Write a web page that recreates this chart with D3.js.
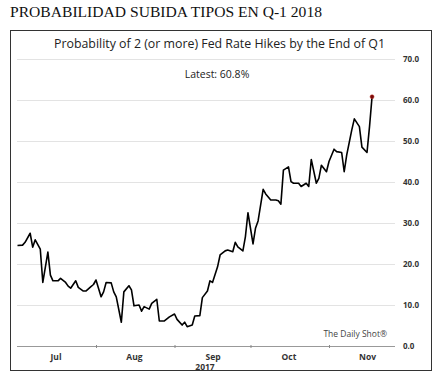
<!DOCTYPE html>
<html>
<head>
<meta charset="utf-8">
<script src="https://cdn.jsdelivr.net/npm/d3@7"></script>
<style>
  body { margin: 0; background: #fff; }
  svg { display: block; }
  .ylab text { font-family: "Open Sans", sans-serif; font-weight: bold; font-size: 8px; fill: #333; }
  .mlab text { font-family: "Open Sans", sans-serif; font-weight: bold; font-size: 8.5px; fill: #333; }
</style>
</head>
<body>
<div id="container"></div>
<script>
var width = 442,
    height = 389;

// series
var dates = ["2017-07-01","2017-07-03","2017-07-04","2017-07-06","2017-07-07","2017-07-08","2017-07-10","2017-07-11",
  "2017-07-13","2017-07-14","2017-07-15","2017-07-17","2017-07-18","2017-07-20","2017-07-21","2017-07-22",
  "2017-07-24","2017-07-25","2017-07-27","2017-07-28","2017-07-30","2017-07-31","2017-08-01","2017-08-03",
  "2017-08-04","2017-08-05","2017-08-07","2017-08-08","2017-08-09","2017-08-11","2017-08-12","2017-08-14",
  "2017-08-15","2017-08-16","2017-08-18","2017-08-19","2017-08-20","2017-08-22","2017-08-23","2017-08-25",
  "2017-08-26","2017-08-28","2017-08-29","2017-08-30","2017-09-01","2017-09-02","2017-09-04","2017-09-05",
  "2017-09-06","2017-09-08","2017-09-09","2017-09-11","2017-09-12","2017-09-14","2017-09-15","2017-09-16",
  "2017-09-18","2017-09-19","2017-09-21","2017-09-22","2017-09-24","2017-09-25","2017-09-26","2017-09-28",
  "2017-09-29","2017-09-30","2017-10-02","2017-10-03","2017-10-04","2017-10-06","2017-10-07","2017-10-09",
  "2017-10-11","2017-10-12","2017-10-13","2017-10-14","2017-10-16","2017-10-17","2017-10-18","2017-10-20",
  "2017-10-21","2017-10-23","2017-10-24","2017-10-25","2017-10-27","2017-10-28","2017-10-29","2017-10-31",
  "2017-11-01","2017-11-03","2017-11-04","2017-11-06","2017-11-07","2017-11-08","2017-11-10","2017-11-11",
  "2017-11-13","2017-11-14","2017-11-16","2017-11-17","2017-11-18"];
var values = [24.5,24.6,25.3,27.5,24.1,25.9,23.6,15.5,
  22.9,17.3,15.9,15.9,16.5,15.5,14.6,14.1,
  15.9,14.3,13.4,13.4,14.5,15.0,16.1,12.0,
  13.2,15.5,15.4,13.2,12.0,5.8,13.2,14.7,
  13.7,9.8,10.0,8.5,9.6,9.0,10.4,11.4,
  6.1,6.1,6.6,7.1,7.8,6.5,5.1,5.8,
  4.7,5.1,7.3,7.4,11.8,13.4,15.9,15.5,
  19.3,22.2,23.2,23.4,23.0,25.3,24.2,23.2,
  26.7,32.5,24.9,28.8,30.5,38.2,37.1,35.6,
  35.6,35.4,34.6,42.9,43.7,40.1,39.7,39.7,
  38.9,39.7,38.9,45.5,39.7,40.9,44.1,42.5,
  45.0,48.0,47.4,47.2,42.5,46.6,52.7,55.4,
  53.5,48.5,47.2,53.5,60.8];

var yTicks = [0, 10, 20, 30, 40, 50, 60, 70];
var monthTicks = ["2017-08-01", "2017-09-01", "2017-10-01", "2017-11-01"];
var monthLabels = ["2017-07-16", "2017-08-16", "2017-09-16", "2017-10-16", "2017-11-16"];
var latest = "Latest: 60.8%";

var parse = d3.timeParse("%Y-%m-%d");
var data = dates.map(function(d, i) { return { date: parse(d), value: values[i] }; });

var svg = d3.select("#container").append("svg")
    .attr("width", width)
    .attr("height", height);

// headline above the box
svg.append("text")
   .attr("x", 10).attr("y", 17)
   .attr("textLength", 312).attr("lengthAdjust", "spacingAndGlyphs")
   .style("font-family", "Liberation Serif, serif")
   .style("font-size", "15px")
   .style("fill", "#111")
   .text("PROBABILIDAD SUBIDA TIPOS EN Q-1 2018");

svg.append("rect")
   .attr("x", 10.5).attr("y", 30.5)
   .attr("width", 421).attr("height", 340)
   .style("fill", "none")
   .style("stroke", "#333")
   .style("stroke-width", 1);

var x = d3.scaleTime()
    .domain([parse("2017-08-01"), parse("2017-11-01")])
    .range([96, 329]);
var y = d3.scaleLinear().domain([0, 70]).range([346, 59]);

var plotLeft = 17, plotRight = 395;

// grid
svg.append("g").selectAll("line")
   .data(yTicks.filter(function(d) { return d > 0; }))
   .enter().append("line")
   .attr("x1", plotLeft).attr("x2", plotRight)
   .attr("y1", function(d) { return y(d) + 0.5; })
   .attr("y2", function(d) { return y(d) + 0.5; })
   .style("stroke", "#e3e3e3")
   .style("stroke-width", 1);

// x axis line + ticks
svg.append("line")
   .attr("x1", plotLeft).attr("x2", plotRight)
   .attr("y1", y(0) + 0.5).attr("y2", y(0) + 0.5)
   .style("stroke", "#999");

var xAxis = svg.append("g")
   .attr("transform", "translate(0," + (y(0) + 0.5) + ")")
   .call(d3.axisBottom(x).tickValues(monthTicks.map(parse)).tickSize(2).tickFormat(""));
xAxis.select(".domain").remove();
xAxis.selectAll("line").attr("y1", -1.5).attr("y2", 1.5).style("stroke", "#888");

var mAxis = svg.append("g")
   .attr("class", "mlab")
   .attr("transform", "translate(0," + (y(0) + 4.5) + ")")
   .call(d3.axisBottom(x).tickValues(monthLabels.map(parse)).tickSize(0).tickFormat(d3.timeFormat("%b")));
mAxis.select(".domain").remove();
mAxis.selectAll("text").attr("dy", "0.71em");

svg.append("text")
   .attr("x", 205).attr("y", 369.5)
   .attr("text-anchor", "middle")
   .style("font-family", "Open Sans, sans-serif")
   .style("font-weight", "bold")
   .style("font-size", "8.5px")
   .style("fill", "#333")
   .text("2017");

// y labels on the right
var yAxis = svg.append("g")
   .attr("class", "ylab")
   .attr("transform", "translate(403,0)")
   .call(d3.axisRight(y).tickValues(yTicks).tickSize(0).tickPadding(0).tickFormat(d3.format(".1f")));
yAxis.select(".domain").remove();

// titles
svg.append("text")
   .attr("x", 219.5).attr("y", 48)
   .attr("text-anchor", "middle")
   .attr("textLength", 331).attr("lengthAdjust", "spacingAndGlyphs")
   .style("font-family", "Open Sans, sans-serif")
   .style("font-size", "12px")
   .style("fill", "#222")
   .text("Probability of 2 (or more) Fed Rate Hikes by the End of Q1");

svg.append("text")
   .attr("x", 217).attr("y", 78)
   .attr("text-anchor", "middle")
   .style("font-family", "Open Sans, sans-serif")
   .style("font-size", "10.5px")
   .style("fill", "#222")
   .text(latest);

svg.append("text")
   .attr("x", 387).attr("y", 337)
   .attr("text-anchor", "end")
   .style("font-family", "Open Sans, sans-serif")
   .style("font-size", "8.5px")
   .style("fill", "#444")
   .text("The Daily Shot\u00AE");

// the line
var line = d3.line()
    .x(function(d) { return x(d.date); })
    .y(function(d) { return y(d.value); });

svg.append("path")
   .datum(data)
   .attr("d", line)
   .style("fill", "none")
   .style("stroke", "#000")
   .style("stroke-width", 1.6)
   .style("stroke-linejoin", "round");

var last = data[data.length - 1];
svg.append("circle")
   .attr("cx", x(last.date)).attr("cy", y(last.value))
   .attr("r", 2)
   .style("fill", "#7a0a0a")
   .style("stroke", "#c0392b")
   .style("stroke-width", 0.5);
</script>
</body>
</html>
